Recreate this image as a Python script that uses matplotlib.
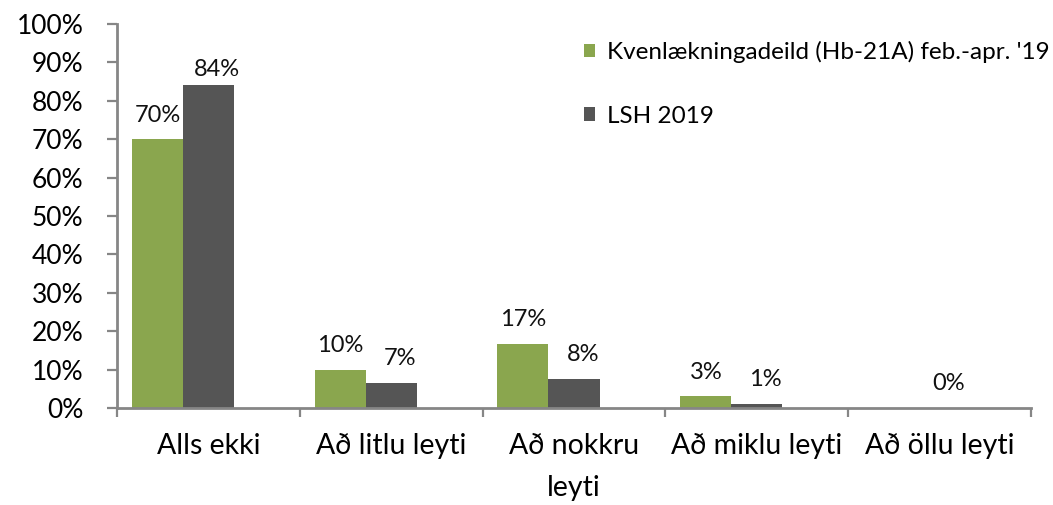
import matplotlib
matplotlib.use("Agg")
import matplotlib.pyplot as plt
import numpy as np

# ---- data ----
categories = ["Alls ekki", "Að litlu leyti", "Að nokkru\nleyti", "Að miklu leyti", "Að öllu leyti"]
series_names = ["Kvenlækningadeild (Hb-21A) feb.-apr. '19", "LSH 2019"]
kvenn = [0.70, 0.10, 0.167, 0.03, 0.0]
lsh = [0.84, 0.066, 0.076, 0.011, 0.0]
ytick_vals = [0.0, 0.1, 0.2, 0.3, 0.4, 0.5, 0.6, 0.7, 0.8, 0.9, 1.0]

GREEN = "#8AA64E"
GREY = "#555555"
AXC = "#868686"

plt.rcParams["font.family"] = ["Lato", "DejaVu Sans"]

W, H = 1053, 505
fig = plt.figure(figsize=(W / 100, H / 100), dpi=100)
ax = fig.add_axes([117 / W, 97 / H, 914 / W, 384 / H])

x = np.arange(len(categories))
w = 0.279
b1 = ax.bar(x - w, kvenn, w, color=GREEN, label=series_names[0])
b2 = ax.bar(x, lsh, w, color=GREY, label=series_names[1])

# data labels
for xi, v in zip(x - w, kvenn):
    if v > 0:
        ax.annotate(f"{v:.0%}", (xi, v), xytext=(0, 17.3), textcoords="offset points",
                    ha="center", va="center", fontsize=17, color="#111111")
for i, (xi, v) in enumerate(zip(x, lsh)):
    dy = 11.5 if i == 0 else 17.3
    ax.annotate(f"{v:.0%}", (xi, v), xytext=(6.5, dy), textcoords="offset points",
                ha="center", va="center", fontsize=17, color="#111111")

ax.set_xlim(-0.5, len(categories) - 0.5)
ax.set_ylim(0, 1.0)
ax.set_yticks(ytick_vals)
ax.set_yticklabels([f"{v:.0%}" for v in ytick_vals], fontsize=19)
ax.set_xticks(x)
ax.set_xticklabels(categories, fontsize=20.5, linespacing=1.75)
ax.set_xticks(np.arange(-0.5, len(categories)), minor=True)

for s in ["top", "right"]:
    ax.spines[s].set_visible(False)
for s in ["left", "bottom"]:
    ax.spines[s].set_color(AXC)
    ax.spines[s].set_linewidth(2)

ax.tick_params(axis="x", which="major", length=0, pad=18)
ax.tick_params(axis="x", which="minor", length=6.5, width=1.6, color=AXC, direction="out")
ax.tick_params(axis="y", which="major", length=7.2, width=1.6, color=AXC, pad=17)

fig.legend(handles=[b1, b2], loc="upper left", bbox_to_anchor=(584 / W, 1 - 41 / H),
           frameon=False, fontsize=17.5, borderpad=0, borderaxespad=0,
           handlelength=0.46, handleheight=0.5, handletextpad=0.5, labelspacing=1.75)

fig.savefig("out.png", dpi=100)
